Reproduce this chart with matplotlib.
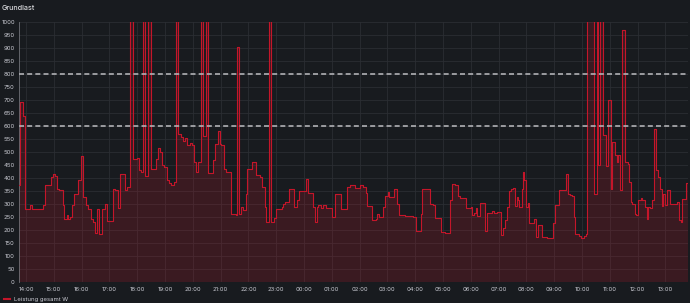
import matplotlib
matplotlib.use("Agg")
import matplotlib.pyplot as plt
import matplotlib.dates as mdates
import pandas as pd

# ---------------- data ----------------
title = "Grundlast"
series_name = "Leistung gesamt W"
start_date = "2024-01-01"
start_time = "13:45"
end_time = "13:49"          # next day

times = [
    "13:45", "13:48", "13:54", "13:59", "14:09", "14:12", "14:37", "14:42", "14:53", "14:58",
    "15:03", "15:08", "15:12", "15:19", "15:23", "15:28", "15:31", "15:35", "15:39", "15:44",
    "15:53", "15:58", "16:04", "16:09", "16:15", "16:20", "16:25", "16:29", "16:34", "16:38",
    "16:45", "16:51", "16:56", "17:08", "17:12", "17:19", "17:24", "17:34", "17:39", "17:44",
    "17:50", "18:00", "18:05", "18:08", "18:13", "18:18", "18:24", "18:30", "18:40", "18:44",
    "18:49", "18:54", "18:59", "19:05", "19:09", "19:14", "19:20", "19:24", "19:29", "19:35",
    "19:40", "19:43", "19:47", "19:54", "19:58", "20:03", "20:07", "20:12", "20:18", "20:23",
    "20:29", "20:34", "20:44", "20:49", "20:54", "20:59", "21:02", "21:08", "21:12", "21:22",
    "21:33", "21:35", "21:40", "21:44", "21:49", "21:54", "21:58", "22:07", "22:16", "22:25",
    "22:30", "22:36", "22:39", "22:44", "22:50", "22:56", "23:00", "23:12", "23:15", "23:19",
    "23:28", "23:35", "23:39", "23:44", "23:49", "00:04", "00:08", "00:20", "00:24", "00:29",
    "00:31", "00:37", "00:42", "00:47", "01:00", "01:07", "01:20", "01:34", "01:39", "01:50",
    "02:02", "02:08", "02:13", "02:17", "02:26", "02:35", "02:38", "02:42", "02:51", "02:55",
    "03:01", "03:04", "03:15", "03:20", "03:25", "03:38", "03:56", "04:01", "04:12", "04:15",
    "04:27", "04:32", "04:39", "04:43", "04:56", "05:04", "05:15", "05:20", "05:26", "05:32",
    "05:37", "05:50", "06:00", "06:03", "06:07", "06:11", "06:14", "06:21", "06:31", "06:36",
    "06:45", "06:51", "06:56", "07:05", "07:10", "07:14", "07:19", "07:23", "07:28", "07:32",
    "07:35", "07:39", "07:41", "07:45", "07:50", "07:52", "07:56", "07:59", "08:03", "08:06",
    "08:16", "08:21", "08:26", "08:34", "08:45", "08:58", "09:02", "09:10", "09:15", "09:25",
    "09:30", "09:34", "09:39", "09:43", "09:46", "09:50", "09:54", "09:57", "10:04", "10:08",
    "10:12", "10:27", "10:32", "10:35", "10:40", "10:46", "10:51", "10:57", "11:02", "11:05",
    "11:11", "11:15", "11:18", "11:23", "11:27", "11:33", "11:39", "11:42", "11:46", "11:49",
    "11:54", "11:57", "12:02", "12:07", "12:10", "12:16", "12:20", "12:23", "12:27", "12:32",
    "12:35", "12:41", "12:45", "12:48", "12:52", "12:56", "12:59", "13:03", "13:11", "13:15",
    "13:26", "13:29", "13:33", "13:37", "13:44",
]

values = [
    374, 692, 639, 282, 295, 282, 295, 372, 404, 417,
    406, 359, 353, 295, 244, 256, 244, 250, 295, 337,
    391, 483, 327, 295, 282, 244, 231, 189, 282, 183,
    282, 301, 233, 359, 353, 286, 417, 353, 365, 1500,
    472, 477, 430, 423, 1500, 408, 1500, 436, 472, 515,
    500, 449, 442, 391, 381, 374, 385, 1500, 571, 558,
    542, 554, 526, 536, 526, 462, 423, 462, 1500, 560,
    1500, 419, 468, 532, 581, 532, 526, 436, 423, 263,
    257, 904, 263, 289, 276, 340, 433, 462, 410, 404,
    365, 289, 231, 1500, 231, 248, 282, 289, 301, 308,
    357, 359, 289, 314, 350, 398, 342, 289, 231, 289,
    295, 286, 295, 286, 250, 337, 282, 365, 372, 362,
    372, 365, 342, 291, 240, 244, 263, 250, 289, 330,
    346, 327, 357, 301, 259, 254, 250, 195, 260, 359,
    357, 301, 295, 246, 192, 190, 314, 378, 372, 330,
    324, 286, 289, 259, 265, 285, 253, 304, 195, 265,
    273, 265, 269, 180, 209, 240, 289, 349, 359, 363,
    291, 327, 314, 289, 359, 423, 394, 289, 304, 227,
    244, 173, 221, 173, 169, 227, 298, 355, 353, 417,
    340, 336, 330, 250, 183, 186, 177, 169, 177, 186,
    1500, 337, 1500, 449, 1500, 567, 445, 699, 359, 538,
    487, 462, 487, 355, 971, 462, 455, 385, 308, 301,
    263, 259, 314, 324, 314, 289, 244, 289, 286, 314,
    590, 430, 404, 359, 291, 340, 295, 353, 301, 299,
    308, 237, 231, 321, 381,
]

thresholds = [600, 800]
y_ticks = list(range(0, 1001, 50))

# ---------------- build time axis ----------------
def to_datetimes(tlist, date0):
    base = pd.Timestamp(date0)
    out, day, prev = [], 0, None
    for t in tlist:
        hh, mm = map(int, t.split(":"))
        m = hh * 60 + mm
        if prev is not None and m < prev:
            day += 1
        prev = m
        out.append(base + pd.Timedelta(days=day, minutes=m))
    return out

ts = to_datetimes(times, start_date)
t_end = ts[-1].normalize() + pd.Timedelta(hours=int(end_time[:2]), minutes=int(end_time[3:]))
ts_full = ts + [t_end]
vals_full = values + [values[-1]]
x = mdates.date2num(ts_full)

# ---------------- style ----------------
bg = "#181b1f"
grid_c = "#2b2e33"
txt_c = "#c7c8d0"
red = "#c4162a"
font = ["Inter", "DejaVu Sans"]

fig = plt.figure(figsize=(6.9, 3.03), dpi=100, facecolor=bg)
ax = fig.add_axes([19 / 690, 21 / 303, 669 / 690, 260 / 303], facecolor=bg)

ax.fill_between(x, vals_full, 0, step="post", color=red, alpha=0.2, linewidth=0, zorder=2)
ax.plot(x, vals_full, drawstyle="steps-post", color=red, lw=0.8, zorder=3)

for th in thresholds:
    ax.axhline(th, color="#b0b1b5", lw=1.2, dashes=(3.0, 1.9), zorder=4)

x0 = mdates.date2num(ts[0])
ax.set_xlim(x0, mdates.date2num(t_end))
ax.set_ylim(0, 1000)
ax.set_yticks(y_ticks)
ax.set_yticklabels([str(v) for v in y_ticks])
ax.xaxis.set_major_locator(mdates.HourLocator())
ax.xaxis.set_major_formatter(mdates.DateFormatter("%H:%M"))

ax.grid(True, color=grid_c, lw=0.6, zorder=0)
ax.set_axisbelow(True)
ax.tick_params(axis="both", length=0, colors=txt_c, labelsize=4.3)
ax.tick_params(axis="y", pad=3.0)
ax.tick_params(axis="x", pad=3.6)
for lab in ax.get_xticklabels() + ax.get_yticklabels():
    lab.set_fontfamily(font)

for s in ["top", "right", "bottom"]:
    ax.spines[s].set_visible(False)
ax.spines["left"].set_color("#707278")
ax.spines["left"].set_linewidth(0.6)

fig.text(2 / 690, 1 - 8 / 303, title, color="#d8d9dc", fontsize=5.2,
         family=font, va="center", ha="left", fontweight="medium")

# legend
fig.lines.append(plt.Line2D([4 / 690, 10 / 690], [1 - 299 / 303] * 2,
                            transform=fig.transFigure, color=red, lw=1.5))
fig.text(13.5 / 690, 1 - 299 / 303, series_name, color=txt_c, fontsize=4.3,
         family=font, va="center", ha="left")

fig.savefig("out.png", dpi=100, facecolor=bg)
